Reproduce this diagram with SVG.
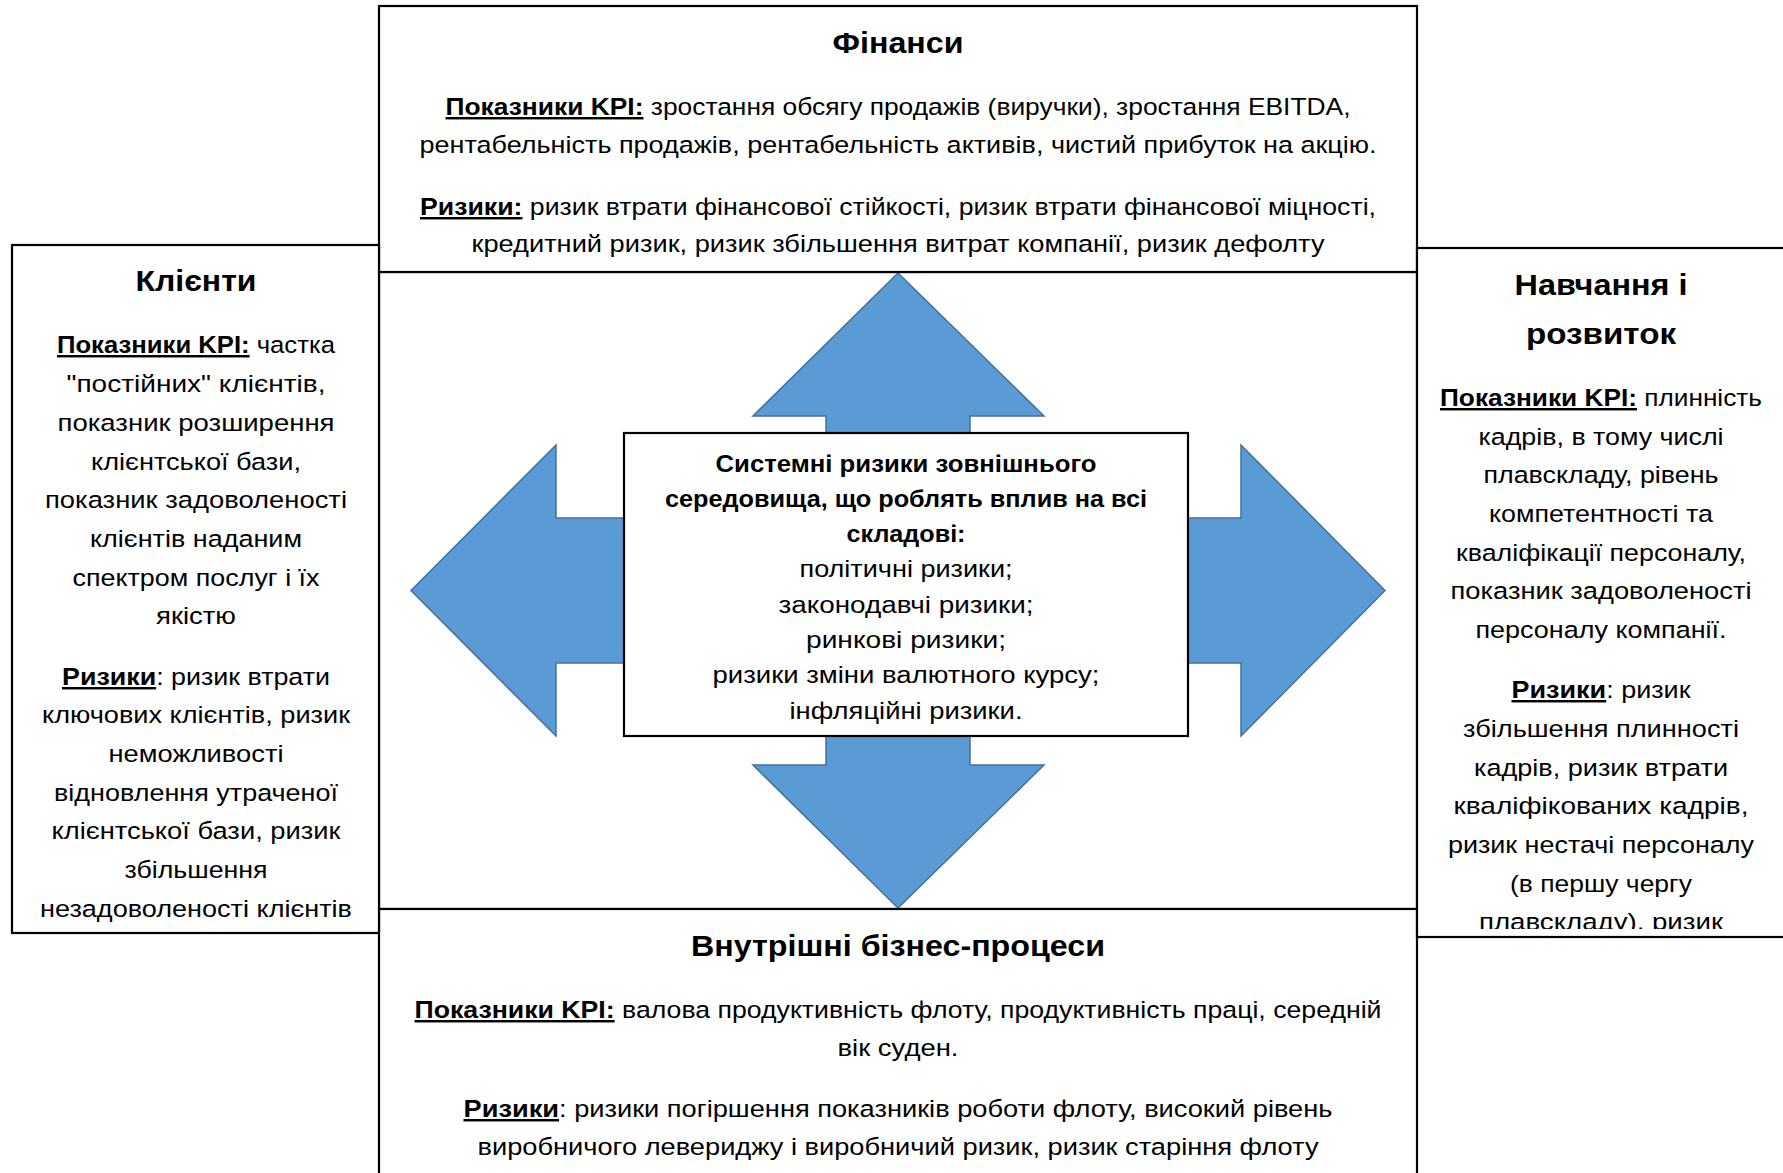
<svg xmlns="http://www.w3.org/2000/svg" width="1783" height="1173" viewBox="0 0 1783 1173">
<style>
.box{fill:#fff;stroke:#000;stroke-width:2.2}
.t{font-family:"Liberation Sans",Arial,sans-serif;font-size:24.5px;fill:#000;text-anchor:middle}
.c{font-size:23px}
.h{font-weight:bold;font-size:29px}
.b{font-weight:bold}
.u{text-decoration:underline}
.arrow{fill:#5B9BD5;stroke:#41719C;stroke-width:1.5}
</style>
<defs>
<clipPath id="clipR"><rect x="1418" y="249" width="370" height="680"/></clipPath>
<clipPath id="clipC"><rect x="625" y="434" width="562" height="291"/></clipPath>
</defs>
<rect x="0" y="0" width="1783" height="1173" fill="#fff"/>
<g id="frame">
<rect class="box" x="379" y="272" width="1038" height="637"/>
</g>
<g id="connectors">
<polygon class="arrow" points="898,273 1044,416 970,416 970,518 1241,518 1241,445 1385,590.5 1241,736 1241,663 970,663 970,765 1044,765 898,908 753,765 826,765 826,663 556,663 556,736 411,590.5 556,445 556,518 826,518 826,416 753,416"/>
</g>
<g id="node-finance">
<rect class="box" x="379" y="6" width="1038" height="266"/>
<text class="t h" x="898" y="53" textLength="131" lengthAdjust="spacingAndGlyphs">Фінанси</text>
<text class="t" x="898" y="115" textLength="905" lengthAdjust="spacingAndGlyphs"><tspan class="b u">Показники KPI:</tspan> зростання обсягу продажів (виручки), зростання EBITDA,</text>
<text class="t" x="898" y="153" textLength="957" lengthAdjust="spacingAndGlyphs">рентабельність продажів, рентабельність активів, чистий прибуток на акцію.</text>
<text class="t" x="898" y="215" textLength="956" lengthAdjust="spacingAndGlyphs"><tspan class="b u">Ризики:</tspan> ризик втрати фінансової стійкості, ризик втрати фінансової міцності,</text>
<text class="t" x="898" y="252" textLength="853" lengthAdjust="spacingAndGlyphs">кредитний ризик, ризик збільшення витрат компанії, ризик дефолту</text>
</g>
<g id="node-processes">
<rect class="box" x="379" y="909" width="1038" height="280"/>
<text class="t h" x="898" y="956" textLength="414" lengthAdjust="spacingAndGlyphs">Внутрішні бізнес-процеси</text>
<text class="t" x="898" y="1018" textLength="967" lengthAdjust="spacingAndGlyphs"><tspan class="b u">Показники KPI:</tspan> валова продуктивність флоту, продуктивність праці, середній</text>
<text class="t" x="898" y="1056" textLength="121" lengthAdjust="spacingAndGlyphs">вік суден.</text>
<text class="t" x="898" y="1117" textLength="869" lengthAdjust="spacingAndGlyphs"><tspan class="b u">Ризики</tspan>: ризики погіршення показників роботи флоту, високий рівень</text>
<text class="t" x="898" y="1155" textLength="841" lengthAdjust="spacingAndGlyphs">виробничого левериджу і виробничий ризик, ризик старіння флоту</text>
</g>
<g id="node-clients">
<rect class="box" x="12" y="245" width="367" height="688"/>
<text class="t h" x="196" y="291" textLength="121" lengthAdjust="spacingAndGlyphs">Клієнти</text>
<text class="t" x="196" y="353" textLength="278" lengthAdjust="spacingAndGlyphs"><tspan class="b u">Показники KPI:</tspan> частка</text>
<text class="t" x="196" y="392" textLength="259" lengthAdjust="spacingAndGlyphs">"постійних" клієнтів,</text>
<text class="t" x="196" y="431" textLength="277" lengthAdjust="spacingAndGlyphs">показник розширення</text>
<text class="t" x="196" y="470" textLength="210" lengthAdjust="spacingAndGlyphs">клієнтської бази,</text>
<text class="t" x="196" y="508" textLength="302" lengthAdjust="spacingAndGlyphs">показник задоволеності</text>
<text class="t" x="196" y="547" textLength="212" lengthAdjust="spacingAndGlyphs">клієнтів наданим</text>
<text class="t" x="196" y="586" textLength="247" lengthAdjust="spacingAndGlyphs">спектром послуг і їх</text>
<text class="t" x="196" y="624" textLength="80" lengthAdjust="spacingAndGlyphs">якістю</text>
<text class="t" x="196" y="685" textLength="268" lengthAdjust="spacingAndGlyphs"><tspan class="b u">Ризики</tspan>: ризик втрати</text>
<text class="t" x="196" y="723" textLength="308" lengthAdjust="spacingAndGlyphs">ключових клієнтів, ризик</text>
<text class="t" x="196" y="762" textLength="175" lengthAdjust="spacingAndGlyphs">неможливості</text>
<text class="t" x="196" y="801" textLength="284" lengthAdjust="spacingAndGlyphs">відновлення утраченої</text>
<text class="t" x="196" y="839" textLength="289" lengthAdjust="spacingAndGlyphs">клієнтської бази, ризик</text>
<text class="t" x="196" y="878" textLength="143" lengthAdjust="spacingAndGlyphs">збільшення</text>
<text class="t" x="196" y="917" textLength="312" lengthAdjust="spacingAndGlyphs">незадоволеності клієнтів</text>
</g>
<g id="node-learning">
<rect class="box" x="1417" y="248" width="380" height="689"/>
<g clip-path="url(#clipR)">
<text class="t h" x="1601" y="295" textLength="173" lengthAdjust="spacingAndGlyphs">Навчання і</text>
<text class="t h" x="1601" y="344" textLength="150" lengthAdjust="spacingAndGlyphs">розвиток</text>
<text class="t" x="1601" y="406" textLength="322" lengthAdjust="spacingAndGlyphs"><tspan class="b u">Показники KPI:</tspan> плинність</text>
<text class="t" x="1601" y="445" textLength="245" lengthAdjust="spacingAndGlyphs">кадрів, в тому числі</text>
<text class="t" x="1601" y="483" textLength="235" lengthAdjust="spacingAndGlyphs">плавскладу, рівень</text>
<text class="t" x="1601" y="522" textLength="224" lengthAdjust="spacingAndGlyphs">компетентності та</text>
<text class="t" x="1601" y="561" textLength="290" lengthAdjust="spacingAndGlyphs">кваліфікації персоналу,</text>
<text class="t" x="1601" y="599" textLength="301" lengthAdjust="spacingAndGlyphs">показник задоволеності</text>
<text class="t" x="1601" y="638" textLength="251" lengthAdjust="spacingAndGlyphs">персоналу компанії.</text>
<text class="t" x="1601" y="698" textLength="179" lengthAdjust="spacingAndGlyphs"><tspan class="b u">Ризики</tspan>: ризик</text>
<text class="t" x="1601" y="737" textLength="276" lengthAdjust="spacingAndGlyphs">збільшення плинності</text>
<text class="t" x="1601" y="776" textLength="254" lengthAdjust="spacingAndGlyphs">кадрів, ризик втрати</text>
<text class="t" x="1601" y="814" textLength="295" lengthAdjust="spacingAndGlyphs">кваліфікованих кадрів,</text>
<text class="t" x="1601" y="853" textLength="306" lengthAdjust="spacingAndGlyphs">ризик нестачі персоналу</text>
<text class="t" x="1601" y="892" textLength="182" lengthAdjust="spacingAndGlyphs">(в першу чергу</text>
<text class="t" x="1601" y="930" textLength="244" lengthAdjust="spacingAndGlyphs">плавскладу), ризик</text>
</g>
</g>
<g id="node-systemic">
<rect class="box" x="624" y="433" width="564" height="303"/>
<g clip-path="url(#clipC)">
<text class="t c b" x="906" y="472" textLength="381" lengthAdjust="spacingAndGlyphs">Системні ризики зовнішнього</text>
<text class="t c b" x="906" y="507" textLength="482" lengthAdjust="spacingAndGlyphs">середовища, що роблять вплив на всі</text>
<text class="t c b" x="906" y="542" textLength="119" lengthAdjust="spacingAndGlyphs">складові:</text>
<text class="t c" x="906" y="577" textLength="213" lengthAdjust="spacingAndGlyphs">політичні ризики;</text>
<text class="t c" x="906" y="613" textLength="255" lengthAdjust="spacingAndGlyphs">законодавчі ризики;</text>
<text class="t c" x="906" y="648" textLength="200" lengthAdjust="spacingAndGlyphs">ринкові ризики;</text>
<text class="t c" x="906" y="683" textLength="387" lengthAdjust="spacingAndGlyphs">ризики зміни валютного курсу;</text>
<text class="t c" x="906" y="719" textLength="233" lengthAdjust="spacingAndGlyphs">інфляційні ризики.</text>
</g>
</g>
</svg>
